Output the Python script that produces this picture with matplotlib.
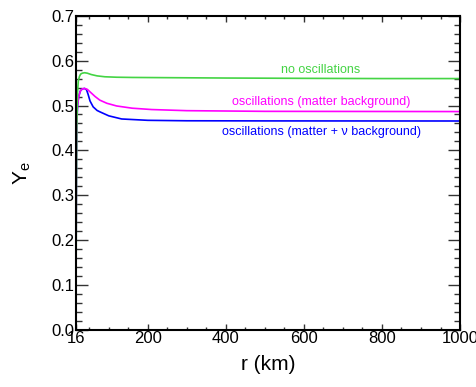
import matplotlib
matplotlib.use("Agg")
import matplotlib.pyplot as plt
from matplotlib.ticker import MultipleLocator, FixedLocator

plt.rcParams['font.family'] = ['Liberation Sans', 'DejaVu Sans']

# ---- data ----
r_noosc = [16, 17, 18, 20, 22, 25, 28, 32, 38, 45, 55, 70, 90, 120, 160, 250, 400, 600, 800, 1000]
ye_noosc = [0.04, 0.30, 0.45, 0.53, 0.555, 0.565, 0.570, 0.572, 0.573, 0.572, 0.569,
            0.566, 0.564, 0.563, 0.5625, 0.562, 0.5612, 0.5605, 0.560, 0.560]

r_matter = [16, 17, 18, 20, 23, 27, 32, 38, 45, 55, 65, 77, 95, 120, 160, 210, 300, 500, 1000]
ye_matter = [0.04, 0.38, 0.46, 0.50, 0.52, 0.532, 0.537, 0.538, 0.536, 0.528, 0.520,
             0.512, 0.505, 0.499, 0.494, 0.491, 0.4885, 0.4870, 0.4865]

r_nu = [16, 17, 18, 20, 23, 27, 32, 38, 43, 47, 52, 60, 70, 77, 100, 133, 200, 300, 500, 1000]
ye_nu = [0.04, 0.38, 0.46, 0.50, 0.52, 0.532, 0.537, 0.538, 0.535, 0.525, 0.510, 0.497,
         0.489, 0.486, 0.477, 0.470, 0.467, 0.466, 0.4657, 0.4655]

x_ticks = [16, 200, 400, 600, 800, 1000]

fig = plt.figure(figsize=(4.77, 3.87), dpi=100)
ax = fig.add_axes([0.1593, 0.1473, 0.8051, 0.8121])

ax.plot(r_nu, ye_nu, color='#0000ff', lw=1.2)
ax.plot(r_matter, ye_matter, color='#ff00ff', lw=1.2)
ax.plot(r_noosc, ye_noosc, color='#44d444', lw=1.2)

ax.text(644, 0.579, 'no oscillations', color='#44d444', fontsize=9, ha='center', va='center')
ax.text(644, 0.508, 'oscillations (matter background)', color='#ff00ff', fontsize=9,
        ha='center', va='center')
ax.text(644, 0.4417, 'oscillations (matter + \u03bd background)', color='#0000ff', fontsize=9,
        ha='center', va='center')

ax.set_xlim(16, 1000)
ax.set_ylim(0, 0.7)
ax.xaxis.set_major_locator(FixedLocator(x_ticks))
ax.xaxis.set_minor_locator(FixedLocator([50, 100, 150] + list(range(250, 1000, 50))))
ax.yaxis.set_major_locator(MultipleLocator(0.1))
ax.yaxis.set_minor_locator(MultipleLocator(0.02))
ax.yaxis.set_major_formatter(matplotlib.ticker.FormatStrFormatter('%.1f'))

ax.tick_params(axis='both', which='both', direction='in', top=True, right=True,
               labelsize=12, width=1.0, color='#333333')
ax.tick_params(axis='y', which='major', length=8.5, pad=1)
ax.tick_params(axis='y', which='minor', length=4.3)
ax.tick_params(axis='x', which='major', length=4.5, pad=1)
ax.tick_params(axis='x', which='minor', length=2.5)
for s in ax.spines.values():
    s.set_linewidth(1.5)

ax.set_xlabel('r (km)', fontsize=15, labelpad=6)
ax.set_ylabel('Y$_\\mathregular{e}$', fontsize=15, labelpad=13)

plt.savefig('out.png', dpi=100)
